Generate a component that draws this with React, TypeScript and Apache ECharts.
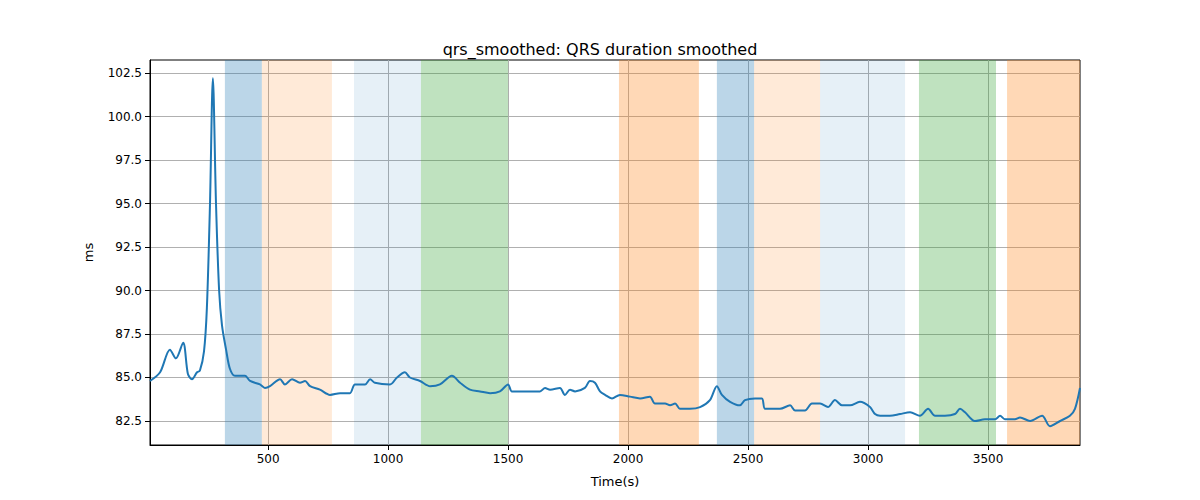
import { useEffect, useRef } from 'react';
import * as echarts from 'echarts';

const times = [8, 50, 91, 116, 146, 166, 183, 204, 216, 233, 245, 258, 270, 283, 296, 308, 325, 341, 362, 404, 425, 466, 487, 508, 550, 570, 600, 633, 654, 675, 716, 758, 800, 841, 862, 904, 925, 945, 1008, 1037, 1070, 1091, 1133, 1175, 1216, 1266, 1300, 1341, 1383, 1425, 1466, 1500, 1516, 1570, 1633, 1654, 1675, 1716, 1737, 1758, 1779, 1820, 1841, 1862, 1883, 1904, 1933, 1966, 2008, 2050, 2091, 2112, 2154, 2175, 2196, 2216, 2258, 2300, 2341, 2370, 2391, 2425, 2466, 2487, 2529, 2558, 2571, 2633, 2675, 2696, 2737, 2766, 2800, 2833, 2862, 2891, 2925, 2966, 3008, 3029, 3050, 3091, 3133, 3175, 3216, 3250, 3279, 3320, 3362, 3383, 3404, 3445, 3487, 3529, 3550, 3570, 3612, 3633, 3675, 3725, 3758, 3800, 3841, 3862, 3883];
const qrs = [84.8, 85.3, 86.6, 86.1, 87.0, 85.2, 84.9, 85.3, 85.4, 86.5, 89.0, 95.0, 102.2, 95.0, 90.0, 88.0, 86.6, 85.5, 85.1, 85.1, 84.8, 84.6, 84.4, 84.5, 84.9, 84.6, 84.9, 84.7, 84.8, 84.5, 84.3, 84.0, 84.1, 84.1, 84.6, 84.6, 84.9, 84.7, 84.6, 85.0, 85.3, 85.0, 84.8, 84.5, 84.6, 85.1, 84.7, 84.3, 84.2, 84.1, 84.2, 84.6, 84.2, 84.2, 84.2, 84.4, 84.3, 84.4, 84.0, 84.3, 84.2, 84.4, 84.8, 84.7, 84.2, 84.0, 83.8, 84.0, 83.9, 83.8, 83.9, 83.5, 83.5, 83.4, 83.5, 83.2, 83.2, 83.3, 83.7, 84.5, 84.0, 83.6, 83.4, 83.7, 83.8, 83.8, 83.2, 83.2, 83.4, 83.1, 83.1, 83.5, 83.5, 83.3, 83.7, 83.4, 83.4, 83.6, 83.3, 82.9, 82.8, 82.8, 82.9, 83.0, 82.8, 83.2, 82.8, 82.8, 82.9, 83.2, 83.0, 82.5, 82.6, 82.6, 82.8, 82.6, 82.6, 82.7, 82.5, 82.8, 82.2, 82.5, 82.8, 83.2, 84.4];

const bands: [number, number, string][] = [
  [320, 474, 'rgba(31,119,180,0.3)'],
  [474, 766, 'rgba(255,127,14,0.16)'],
  [858, 1137, 'rgba(31,119,180,0.11)'],
  [1137, 1500, 'rgba(44,160,44,0.3)'],
  [1962, 2295, 'rgba(255,127,14,0.3)'],
  [2370, 2525, 'rgba(31,119,180,0.3)'],
  [2525, 2800, 'rgba(255,127,14,0.16)'],
  [2800, 3154, 'rgba(31,119,180,0.11)'],
  [3212, 3533, 'rgba(44,160,44,0.3)'],
  [3579, 3883, 'rgba(255,127,14,0.3)'],
];

const xTicks = [500, 1000, 1500, 2000, 2500, 3000, 3500];
const yTicks = [82.5, 85, 87.5, 90, 92.5, 95, 97.5, 100, 102.5];

const App = () => {
  const chartRef = useRef(null);

  useEffect(() => {
    document.body.style.margin = '0';
    if (!chartRef.current) return;
    const myChart = echarts.init(chartRef.current, null, { renderer: 'svg' });
    const font = 'DejaVu Sans';
    const option = {
      animation: false,
      textStyle: { fontFamily: font },
      title: {
        text: 'qrs_smoothed: QRS duration smoothed',
        left: 'center',
        top: 36,
        textStyle: { fontFamily: font, fontSize: 16, fontWeight: 'normal', color: '#000' },
      },
      grid: { left: 150, right: 120, top: 60, bottom: 55, show: true, borderColor: '#000', borderWidth: 1, backgroundColor: 'transparent' },
      xAxis: {
        type: 'value',
        min: 8,
        max: 3883,
        name: 'Time(s)',
        nameLocation: 'middle',
        nameGap: 30,
        nameTextStyle: { fontFamily: font, fontSize: 13, color: '#000' },
        axisLine: { onZero: false, lineStyle: { color: '#000' } },
        axisTick: { customValues: xTicks, lineStyle: { color: '#000' } },
        axisLabel: { customValues: xTicks, fontFamily: font, fontSize: 12, color: '#000', formatter: (v: number) => String(v) },
        splitLine: { show: true, lineStyle: { color: '#b0b0b0' } },
      },
      yAxis: {
        type: 'value',
        min: 81.12,
        max: 103.25,
        name: 'ms',
        nameLocation: 'middle',
        nameGap: 55,
        nameTextStyle: { fontFamily: font, fontSize: 13, color: '#000' },
        axisLine: { show: true, lineStyle: { color: '#000' } },
        axisTick: { show: true, customValues: yTicks, lineStyle: { color: '#000' } },
        axisLabel: { customValues: yTicks, fontFamily: font, fontSize: 12, color: '#000', formatter: (v: number) => v.toFixed(1) },
        splitLine: { show: true, lineStyle: { color: '#b0b0b0' } },
      },
      series: [
        {
          type: 'line',
          data: times.map((t, i) => [t, qrs[i]]),
          showSymbol: false,
          smooth: 0.3,
          lineStyle: { color: '#1f77b4', width: 2 },
          itemStyle: { color: '#1f77b4' },
          markArea: {
            silent: true,
            data: bands.map(([a, b, c]) => [{ xAxis: a, itemStyle: { color: c } }, { xAxis: b }]),
          },
        },
      ],
    };
    myChart.setOption(option);
    return () => {
      myChart.dispose();
    };
  }, []);

  return <div ref={chartRef} style={{ width: '1200px', height: '500px' }} />;
};

export default App;
